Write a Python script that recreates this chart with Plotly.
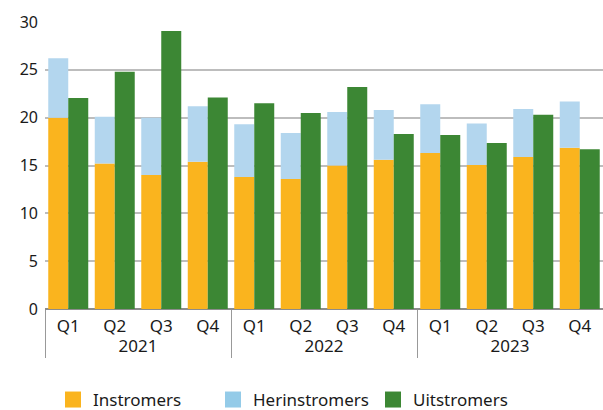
import plotly.graph_objects as go

years = ["2021"] * 4 + ["2022"] * 4 + ["2023"] * 4
quarters = ["Q1", "Q2", "Q3", "Q4"] * 3
instromers = [20.0, 15.2, 14.0, 15.4, 13.8, 13.6, 15.0, 15.6, 16.3, 15.05, 15.9, 16.85]
totaal_in = [26.2, 20.1, 20.0, 21.2, 19.3, 18.4, 20.6, 20.8, 21.4, 19.4, 20.9, 21.7]
herinstromers = [round(t - i, 2) for t, i in zip(totaal_in, instromers)]
uitstromers = [22.05, 24.8, 29.05, 22.1, 21.5, 20.5, 23.2, 18.3, 18.2, 17.35, 20.3, 16.7]
yticks = [0, 5, 10, 15, 20, 25, 30]
series_names = ["Instromers", "Herinstromers", "Uitstromers"]
colors = ["#FAB41E", "#B3D6EE", "#3C8734"]
legend_colors = ["#FAB41E", "#94CBE8", "#3C8734"]

x = [years, quarters]
fig = go.Figure()
fig.add_trace(go.Bar(x=x, y=instromers, name=series_names[0], marker_color=colors[0],
                     marker_line_width=0, offsetgroup="in", showlegend=False))
fig.add_trace(go.Bar(x=x, y=herinstromers, base=instromers, name=series_names[1],
                     marker_color=colors[1], marker_line_width=0, offsetgroup="in",
                     showlegend=False))
fig.add_trace(go.Bar(x=x, y=uitstromers, name=series_names[2], marker_color=colors[2],
                     marker_line_width=0, offsetgroup="uit", showlegend=False))
for n, c in zip(series_names, legend_colors):
    fig.add_trace(go.Scatter(x=[None], y=[None], mode="markers", name=n,
                             marker=dict(symbol="square", size=16, color=c),
                             showlegend=True))

fig.update_layout(
    width=603, height=410,
    margin=dict(l=45, r=0, t=22, b=101, autoexpand=False),
    barmode="group", bargap=0.14, bargroupgap=0,
    plot_bgcolor="white", paper_bgcolor="white",
    font=dict(family="Noto Sans", size=16, color="#1a1a1a"),
    showlegend=True,
    legend=dict(orientation="h", x=0.0143, xanchor="left", y=-0.317, yanchor="middle",
                font=dict(size=17), itemwidth=30, traceorder="normal",
                entrywidth=115, entrywidthmode="pixels"),
    xaxis=dict(type="multicategory", showdividers=True, dividercolor="#999999",
               dividerwidth=1.2, tickfont=dict(size=17), showgrid=False,
               showline=False, ticks="", automargin=False, ticklabelstandoff=5),
    yaxis=dict(range=[0, 30], tickvals=yticks, showgrid=True, gridcolor="#BDBDBD",
               gridwidth=2, zeroline=True, zerolinecolor="#8C8C8C", zerolinewidth=1.5,
               ticks="", tickfont=dict(size=16), showline=False, automargin=False,
               ticklabelstandoff=6),
)
fig.write_html("out.html", config={"displayModeBar": False},
               post_script="document.body.style.margin='0px';")
